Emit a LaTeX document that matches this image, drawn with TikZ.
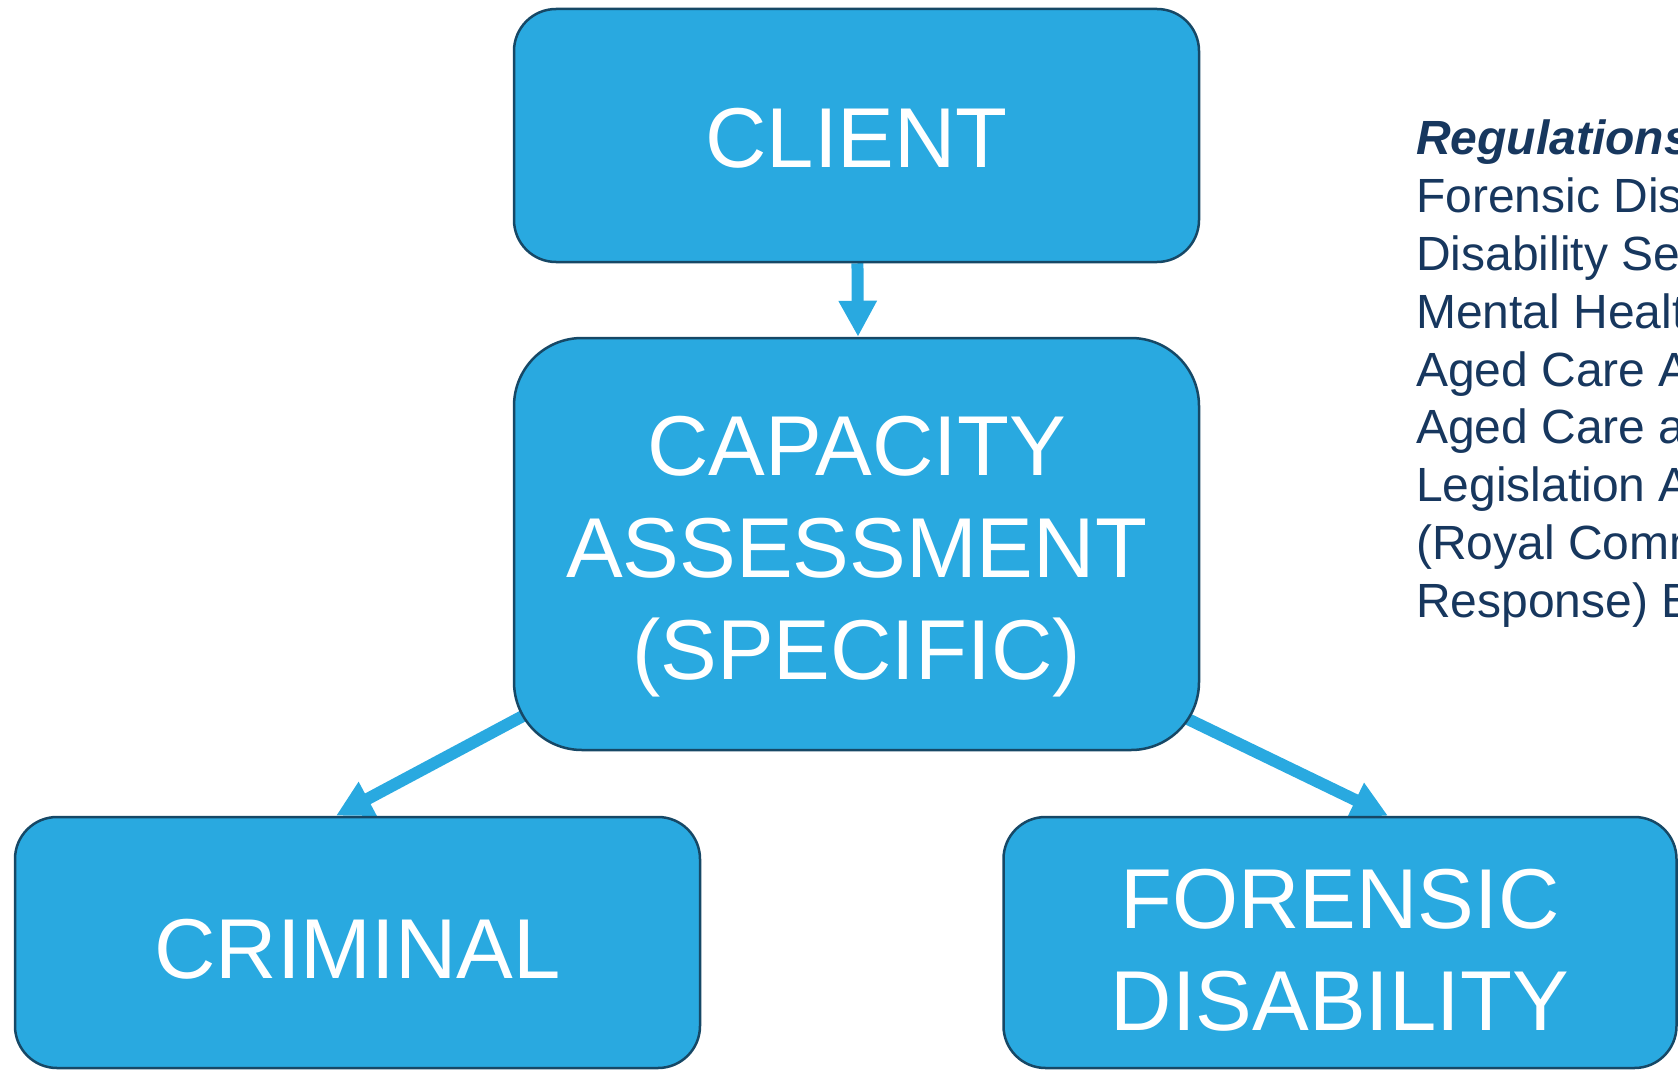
\documentclass[tikz,border=0pt]{standalone}
\usepackage{fontspec}
\setmainfont{Liberation Sans}
\usetikzlibrary{arrows.meta,calc,backgrounds}
\definecolor{boxblue}{RGB}{41,169,224}
\definecolor{boxedge}{RGB}{22,72,102}
\definecolor{navytext}{RGB}{23,55,94}
% strut that lowers the first line of a box label
\newcommand{\toppad}[1]{\rule{0pt}{#1}}
\begin{document}
\begin{tikzpicture}[x=1pt,y=-1pt,
  box/.style={draw=boxedge,line width=2.5pt,fill=boxblue,text=white,
    rectangle,inner sep=0pt,align=center,
    font=\fontsize{85}{102}\selectfont},
  arr/.style={draw=boxblue,line width=12pt,
    -{Triangle[length=36pt,width=36pt]}}]
  \useasboundingbox (0,0) rectangle (1678,1070);
  \clip (0,0) rectangle (1678,1070);

  % process boxes
  \node[box,rounded corners=42pt,minimum width=685pt,minimum height=253pt]
    (client) at (856.5,135.5) {\toppad{65pt}CLIENT};
  \node[box,rounded corners=68pt,minimum width=685pt,minimum height=412pt]
    (cap) at (856.5,544) {\toppad{84pt}CAPACITY\\ASSESSMENT\\(SPECIFIC)};
  \node[box,rounded corners=42pt,minimum width=685pt,minimum height=251pt]
    (crim) at (357.5,942.5) {\toppad{73pt}CRIMINAL};
  \node[box,rounded corners=42pt,minimum width=673pt,minimum height=251pt]
    (foren) at (1340,942.5) {\toppad{74pt}FORENSIC\\DISABILITY};

  % arrow tips sit on the upper edges of the target boxes
  \coordinate (capTop) at ($(cap.north)+(1.5,0)$);
  \coordinate (crimTop) at ($(crim.north)+(-21.5,0)$);
  \coordinate (forenTop) at ($(foren.north)+(48,0)$);
  \coordinate (capLow) at ($(cap.center)+(0,15)$);
  \coordinate (capHigh) at ($(cap.center)+(0,-6)$);

  \begin{scope}[on background layer]
    \draw[arr] (client) -- (capTop);
    \draw[arr] (capHigh) -- (crimTop);
    \draw[arr] (capLow) -- (forenTop);
  \end{scope}

  % side list
  \node[anchor=north west,inner sep=0pt,text=navytext,align=left,
        font=\fontsize{48}{57.8}\selectfont]
    (regs) at (1416,120)
    {\textbf{\textit{Regulations}}\\
     Forensic Dis\\
     Disability Se\\
     Mental Healt\\
     Aged Care A\\
     Aged Care a\\
     Legislation A\\
     (Royal Comm\\
     Response) B};
\end{tikzpicture}
\end{document}
